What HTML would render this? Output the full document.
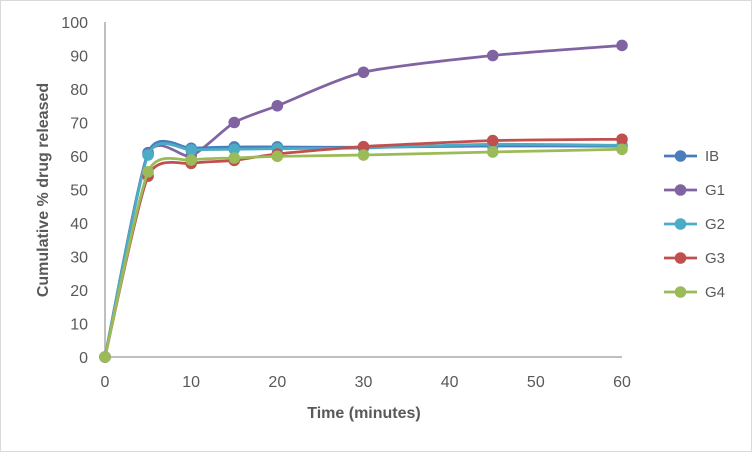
<!DOCTYPE html>
<html><head><meta charset="utf-8"><style>
body{margin:0;background:#fff}
svg{display:block;font-family:"Liberation Sans",Arial,sans-serif}
</style></head><body>
<svg id="chart" width="752" height="452">
<rect x="0.5" y="0.5" width="751" height="451" fill="#fff" stroke="#d9d9d9"/>
<g id="axes"></g><g id="series"></g><g id="legend"></g>
<text x="364" y="418" text-anchor="middle" font-size="16" font-weight="bold" fill="#595959">Time (minutes)</text>
<text transform="translate(48,190) rotate(-90)" text-anchor="middle" font-size="16" font-weight="bold" fill="#595959">Cumulative % drug released</text>
</svg>
<script>
const times=[0,5,10,15,20,30,45,60];
const seriesNames=["IB","G1","G2","G3","G4"];
const seriesColors=["#4a7ebb","#8064a2","#4bacc6","#c0504d","#9bbb59"];
const valIB=[0,61,62.3,62.7,62.7,62.6,63,62.9];
const valG1=[0,60.5,60,70,75,85,90,93];
const valG2=[0,60.3,61.8,62,62.2,62.4,63.5,63.2];
const valG3=[0,54,57.8,58.7,60.6,62.8,64.6,65];
const valG4=[0,55.3,58.8,59.4,59.9,60.3,61.2,62];
const allVals=[valIB,valG1,valG2,valG3,valG4];
const xTicks=[0,10,20,30,40,50,60];
const yTicks=[0,10,20,30,40,50,60,70,80,90,100];
const NS="http://www.w3.org/2000/svg";
const X=v=>105+v*(622-105)/60;
const Y=v=>357-v*3.35;
function mk(t,a,p){const e=document.createElementNS(NS,t);for(const k in a)e.setAttribute(k,a[k]);p.appendChild(e);return e;}
const ax=document.getElementById('axes');
const yl=mk('line',{x1:105,y1:Y(0),x2:105,y2:Y(100),stroke:'#bfbfbf','stroke-width':2},ax);


const xl=mk('line',{x1:105,y1:Y(0),x2:622,y2:Y(0),stroke:'#bfbfbf','stroke-width':2},ax);


yTicks.forEach(v=>{
  const t=mk('text',{x:88,y:Y(v)+6,'text-anchor':'end','font-size':16,fill:'#595959'},ax);
  t.textContent=v;
  
  
});
xTicks.forEach(v=>{
  const t=mk('text',{x:X(v),y:387,'text-anchor':'middle','font-size':16,fill:'#595959'},ax);
  t.textContent=v;
  
  
});
function smooth(p){
  let d=`M${p[0][0]},${p[0][1]}`;
  const k=1/9;
  for(let i=0;i<p.length-1;i++){
    const p0=p[i-1]||p[i],p1=p[i],p2=p[i+1],p3=p[i+2]||p2;
    const c1=[p1[0]+(p2[0]-p0[0])*k,p1[1]+(p2[1]-p0[1])*k];
    const c2=[p2[0]-(p3[0]-p1[0])*k,p2[1]-(p3[1]-p1[1])*k];
    d+=`C${c1[0]},${c1[1]} ${c2[0]},${c2[1]} ${p2[0]},${p2[1]}`;
  }
  return d;
}
const sg=document.getElementById('series');
allVals.forEach((vals,si)=>{
  const g=mk('g',{},sg);
  
  
  const pts=vals.map((v,i)=>[X(times[i]),Y(v)]);
  mk('path',{d:smooth(pts),fill:'none',stroke:seriesColors[si],'stroke-width':2.75},g);
  pts.forEach(p=>{
    const c=mk('circle',{cx:p[0],cy:p[1],r:5.8,fill:seriesColors[si]},g);
    
    
  });
});
const lg=document.getElementById('legend');
seriesNames.forEach((n,i)=>{
  const y=156+i*34;
  const g=mk('g',{},lg);
  
  
  mk('line',{x1:664,y1:y,x2:697,y2:y,stroke:seriesColors[i],'stroke-width':2.75},g);
  mk('circle',{cx:680.5,cy:y,r:5.8,fill:seriesColors[i]},g);
  const t=mk('text',{x:705,y:y+5,'font-size':15,fill:'#595959'},g);
  t.textContent=n;
});
</script>
</body></html>
